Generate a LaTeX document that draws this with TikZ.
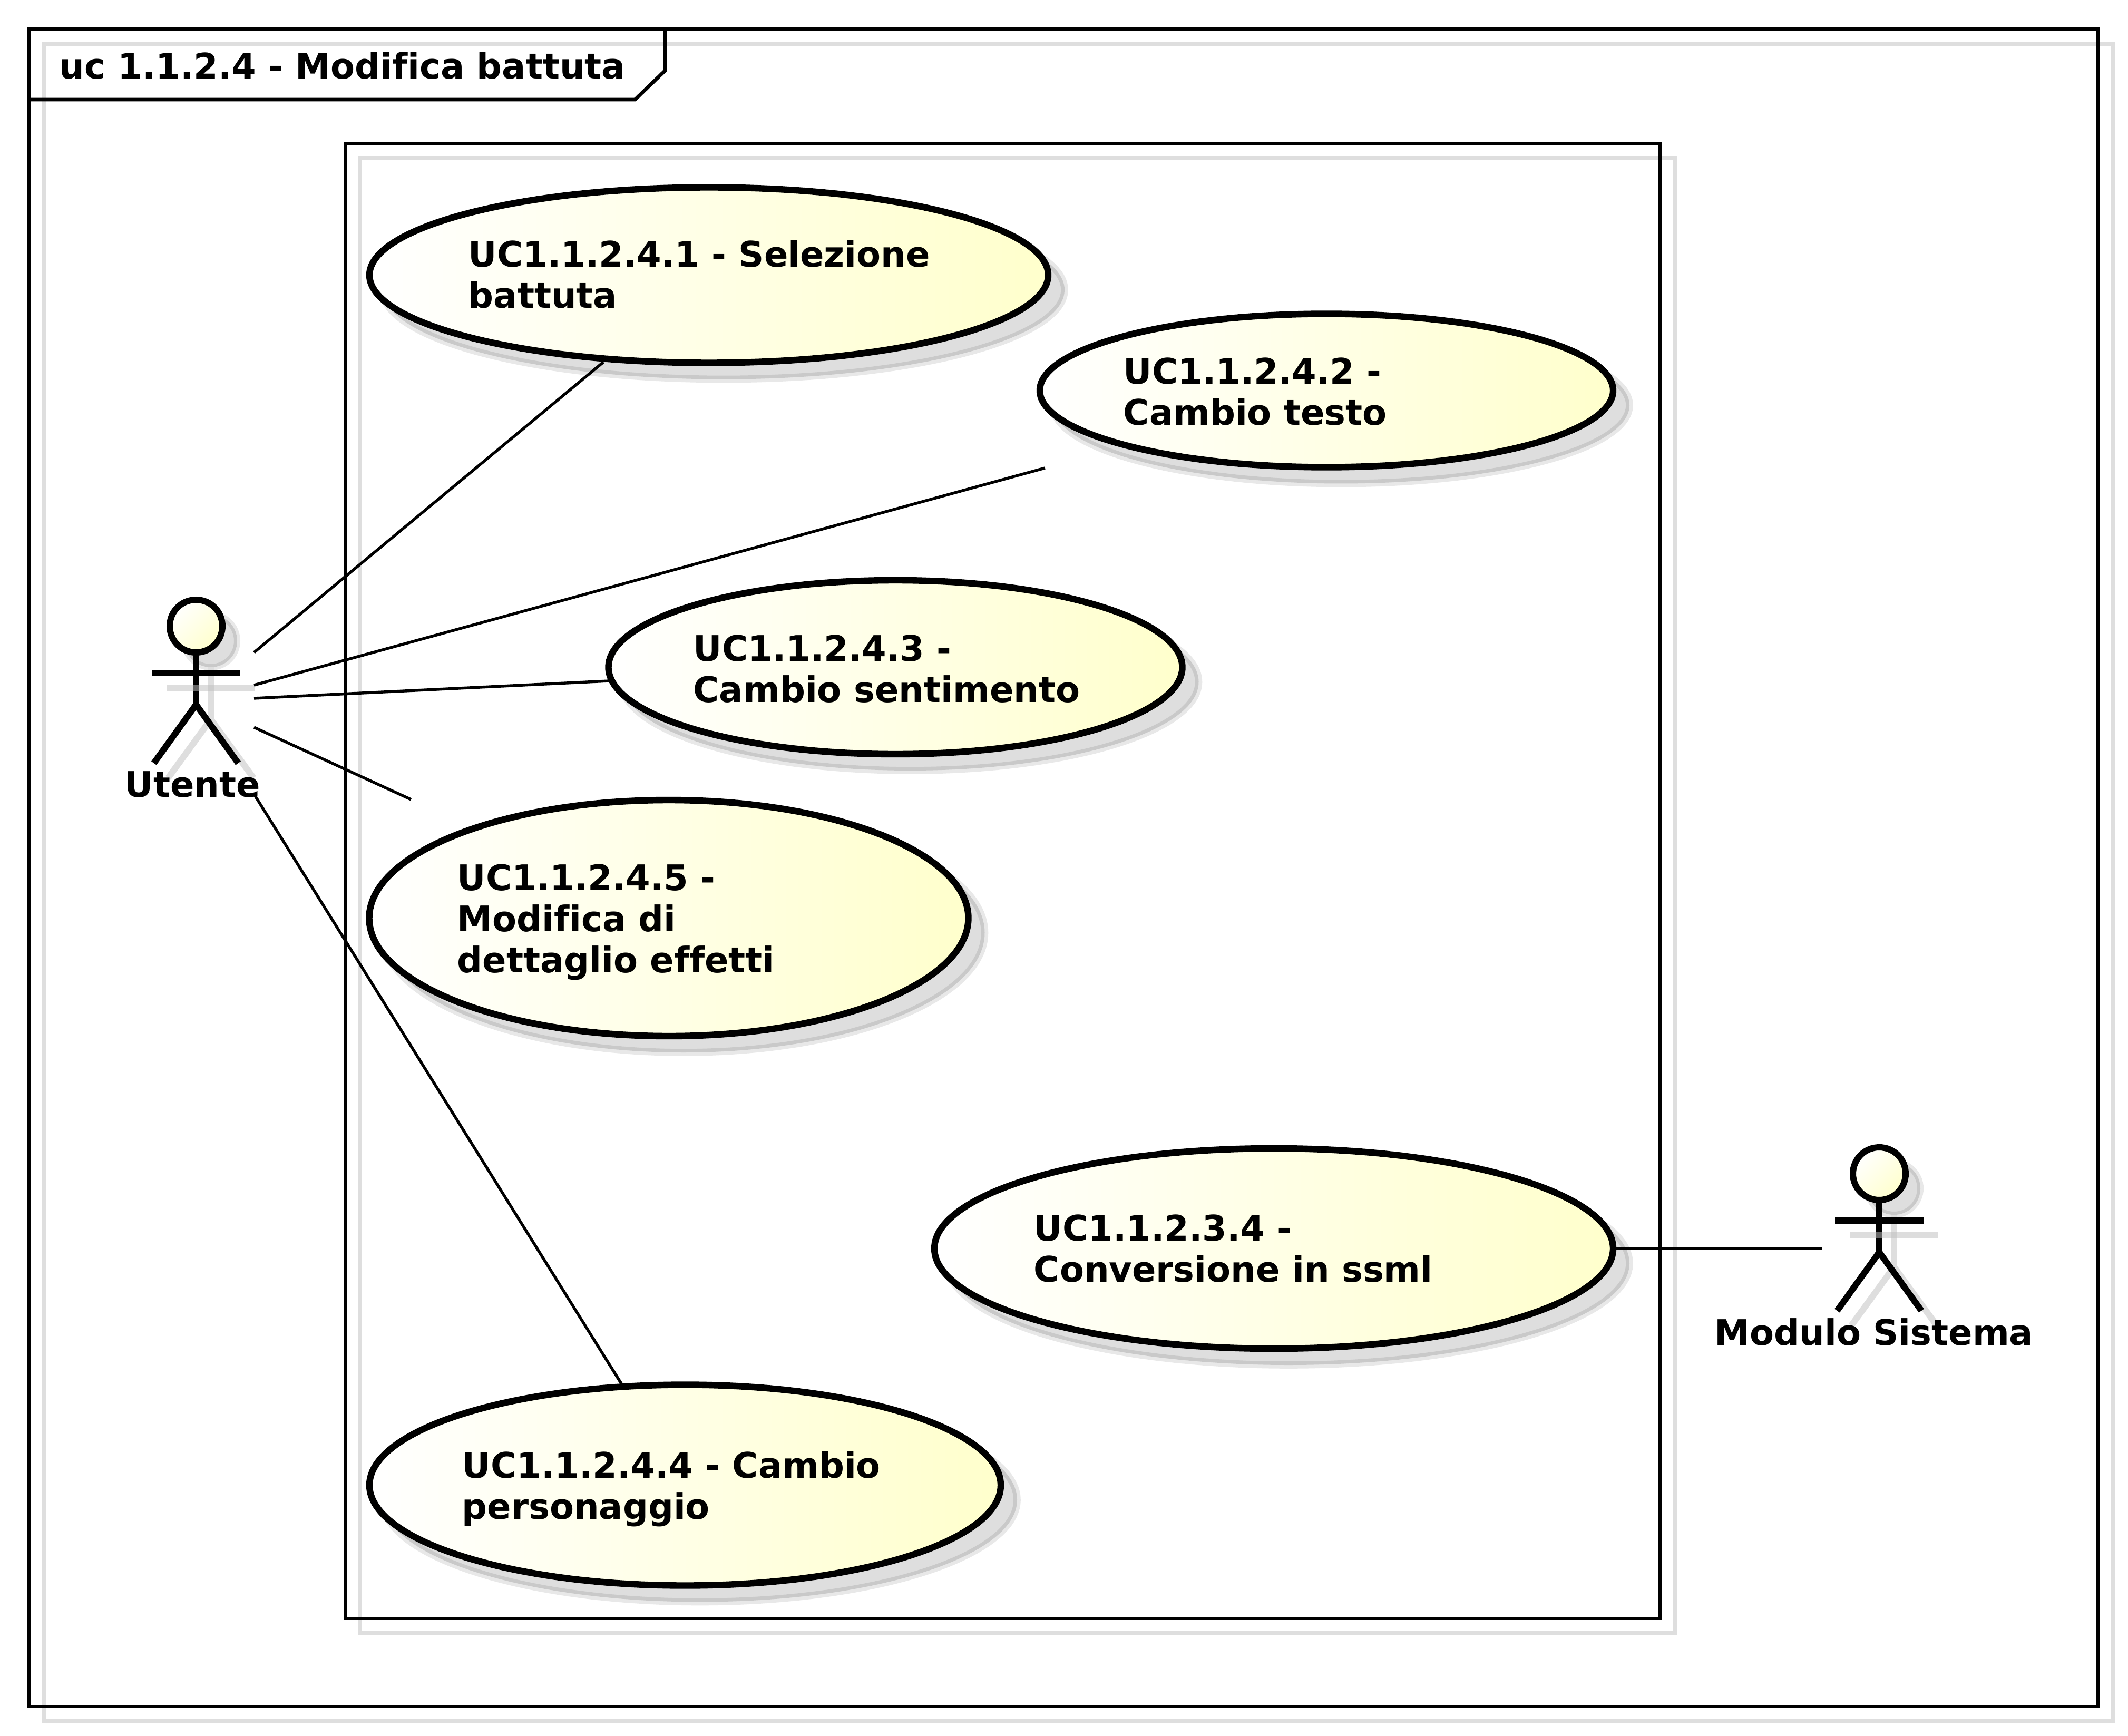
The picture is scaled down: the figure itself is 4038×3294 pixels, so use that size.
\documentclass[tikz,border=0pt]{standalone}
\usepackage{fontspec}
\setmainfont{DejaVu Sans}[Ligatures=NoCommon]
\usetikzlibrary{shapes.geometric}
\definecolor{ucyellow}{HTML}{FFFFCC}
\tikzset{
  txt/.style={inner sep=0pt,anchor=base west,font=\fontsize{16.75}{19.5}\selectfont\bfseries},
  frameline/.style={draw=black,line width=1.7pt,line join=miter},
  frameshadow/.style={draw=black!13,line width=1.8pt},
  conn/.style={draw=black,line width=1.35pt},
  uc/.style={ellipse,inner sep=0pt,outer sep=0pt,draw=black,line width=3.1pt,left color=white,right color=ucyellow},
  ucsh/.style={ellipse,inner sep=0pt,outer sep=0pt,fill=black,fill opacity=.13,draw=black,draw opacity=.09,line width=3.4pt},
  act/.style={draw=black,line width=3pt},
  shline/.style={draw=black!13,line width=3pt},
  sharm/.style={draw=black!25,draw opacity=.53,line width=3pt},
  headsty/.style={circle,inner sep=0pt,outer sep=0pt,minimum size=25pt,draw=black,line width=3pt,left color=white,right color=ucyellow,shading angle=45},
  headsh/.style={circle,inner sep=0pt,outer sep=0pt,minimum size=25pt,fill=black,fill opacity=.13,draw=black,draw opacity=.09,line width=3pt},
}
\newcommand\usecase[5]{%
  \node[ucsh,minimum width=#4*0.25pt+1.5pt,minimum height=#5*0.25pt+1.5pt] (#1s) at (#2+28,#3+28) {};
  \node[uc,minimum width=#4*0.25pt,minimum height=#5*0.25pt] (#1) at (#2,#3) {};
}
\newcommand\actor[3]{%
  \begin{scope}[shift={(#2,#3)}]
    \node[headsh] (#1hs) at (28,28) {};
    \draw[act] (0,50) -- (0,149);
    \draw[shline] (28,78) -- (28,177);
    \draw[shline] (28,177) -- (-53,288) (28,177) -- (109,288);
    \draw[sharm] (-56,117) -- (112,117);
    \node[headsty] (#1h) at (0,0) {};
    \draw[act] (-84,89) -- (84,89);
    \draw[act,line join=miter] (-80,260) -- (0,149) -- (80,260);
  \end{scope}
}
\begin{document}
\begin{tikzpicture}[x=0.25pt,y=-0.25pt]
\useasboundingbox[fill=white] (0,0) rectangle (4038,3294);
% outer frame
\draw[frameshadow] (83,83) rectangle (4009,3266);
\draw[frameline] (55,55) rectangle (3981,3238);
\draw[frameline] (55,189) -- (1205,189) -- (1262,134) -- (1262,55);
\node[txt] (title) at (112,150) {uc 1.1.2.4 - Modifica battuta};
% system
\draw[frameshadow] (683,300) rectangle (3178,3099);
\draw[frameline] (655,272) rectangle (3150,3071);
% use cases
\usecase{ea}{1345}{522}{1288}{333}
\usecase{eb}{2517}{741}{1088}{291}
\usecase{ec}{1699}{1266}{1089}{330}
\usecase{ee}{1269}{1742}{1137}{448}
\usecase{ef}{2417}{2369}{1288}{380}
\usecase{ed}{1300}{2818}{1198}{381}
\node[txt] (ta) at (888,507) {\vtop{\hbox{UC1.1.2.4.1 - Selezione}\hbox{battuta}}};
\node[txt] (tb) at (2131,729) {\vtop{\hbox{UC1.1.2.4.2 -}\hbox{Cambio testo}}};
\node[txt] (tc) at (1315,1254) {\vtop{\hbox{UC1.1.2.4.3 -}\hbox{Cambio sentimento}}};
\node[txt] (te) at (867,1689) {\vtop{\hbox{UC1.1.2.4.5 -}\hbox{Modifica di}\hbox{dettaglio effetti}}};
\node[txt] (tf) at (1961,2354) {\vtop{\hbox{UC1.1.2.3.4 -}\hbox{Conversione in ssml}}};
\node[txt] (td) at (876,2804) {\vtop{\hbox{UC1.1.2.4.4 - Cambio}\hbox{personaggio}}};
% actors
\actor{ut}{372}{1188}
\actor{ms}{3566}{2227}
\node[txt] (utl) at (236,1512) {Utente};
\node[txt] (msl) at (3253,2552) {Modulo Sistema};
% connector ends
\coordinate (a1) at (482,1238);
\coordinate (a2) at (482,1300);
\coordinate (a3) at (482,1325);
\coordinate (a4) at (482,1380);
\coordinate (a5) at (484,1510);
\coordinate (b1) at (1145,687);
\coordinate (b2) at (1983,888);
\coordinate (b3) at (1156,1292);
\coordinate (b4) at (780,1517);
\coordinate (b5) at (1180,2627);
\coordinate (b6) at (3066,2369);
\coordinate (m1) at (3458,2369);
\draw[conn] (a1) -- (b1);
\draw[conn] (a2) -- (b2);
\draw[conn] (a3) -- (b3);
\draw[conn] (a4) -- (b4);
\draw[conn] (a5) -- (b5);
\draw[conn] (b6) -- (m1);
\end{tikzpicture}
\end{document}
